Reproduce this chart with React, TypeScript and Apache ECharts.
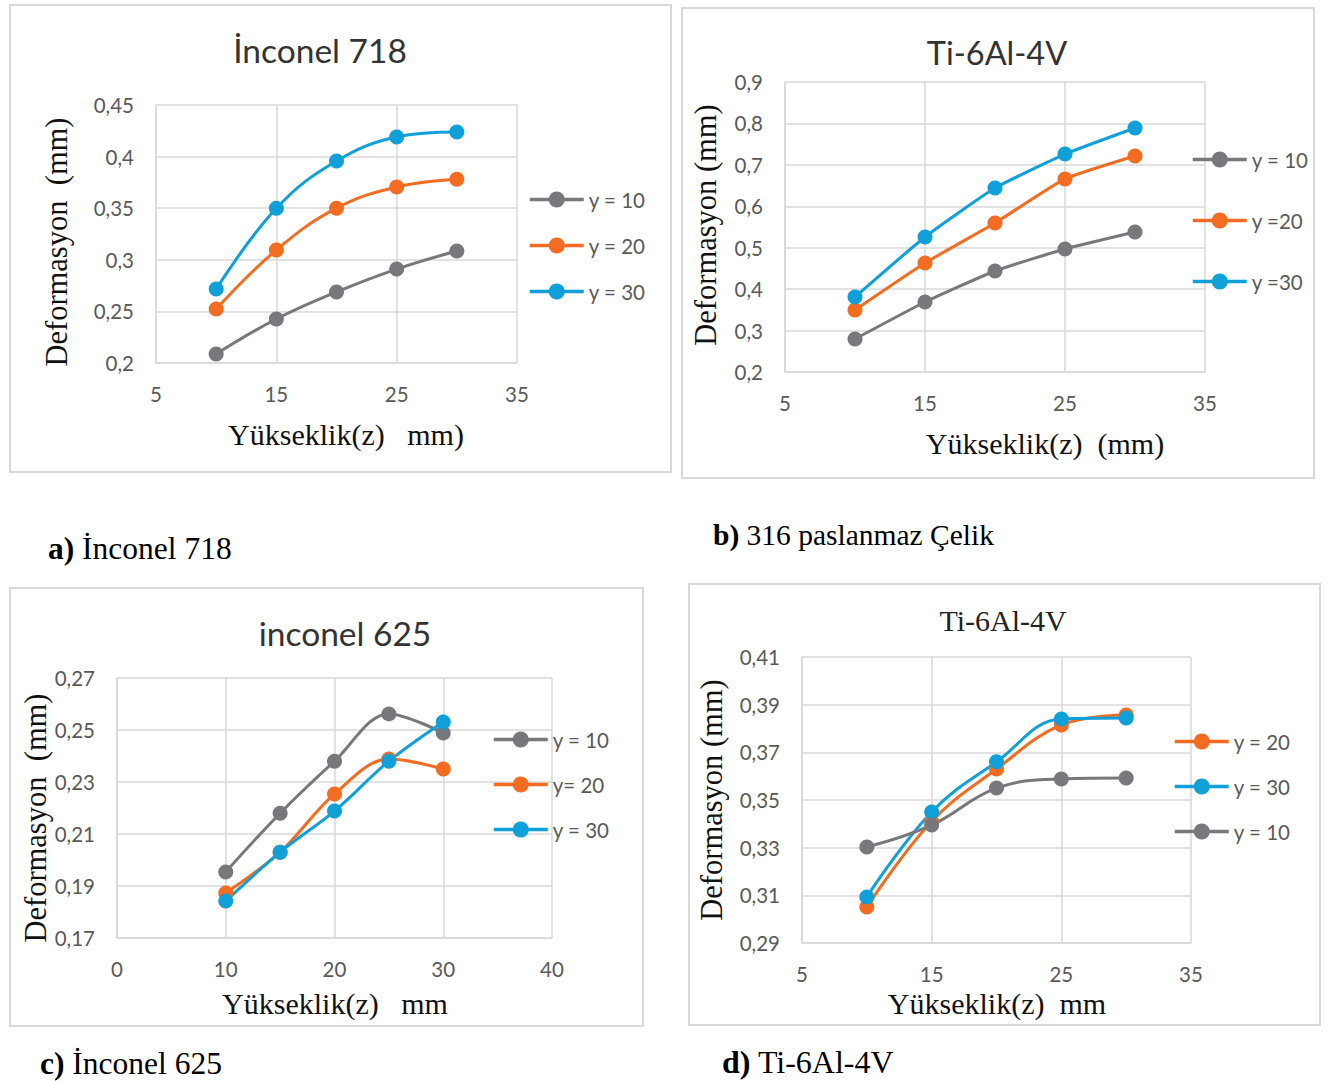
import React, { useEffect, useRef } from 'react';
import * as echarts from 'echarts';

const Z = [10, 15, 20, 25, 30];

const A_Y10 = [0.2087, 0.2426, 0.2688, 0.291, 0.3085];
const A_Y20 = [0.2523, 0.3095, 0.35, 0.3705, 0.378];
const A_Y30 = [0.2717, 0.35, 0.3957, 0.419, 0.4238];

const B_Y10 = [0.2797, 0.369, 0.4438, 0.497, 0.538];
const B_Y20 = [0.3497, 0.463, 0.5597, 0.666, 0.7214];
const B_Y30 = [0.381, 0.526, 0.644, 0.726, 0.789];

const C_Y10 = [0.1954, 0.218, 0.238, 0.2562, 0.2488];
const C_Y20 = [0.1873, 0.203, 0.2254, 0.2388, 0.235];
const C_Y30 = [0.1842, 0.203, 0.2188, 0.238, 0.2531];

const D_Y20 = [0.3051, 0.341, 0.363, 0.3815, 0.3857];
const D_Y30 = [0.3093, 0.345, 0.366, 0.384, 0.3844];
const D_Y10 = [0.3303, 0.3395, 0.355, 0.3588, 0.3592];

const GRAY = '#77787b';
const ORANGE = '#f36c21';
const BLUE = '#0fa0da';
const GRID_C = '#d9d9d9';
const LABEL_C = '#595959';
const SANS = 'Lato, "Open Sans", sans-serif';
const SERIF = '"Liberation Serif", "Times New Roman", serif';

const pairs = (ys: number[]) => Z.map((z, i) => [z, ys[i]]);
const comma = (v: number) => String(v).replace('.', ',');

export default function App() {
  const ref = useRef<HTMLDivElement>(null);
  useEffect(() => {
    if (!ref.current) return;
    const chart = echarts.init(ref.current, null, { renderer: 'svg' });

    const grids = [
      { left: 156, top: 105, width: 361, height: 258 },
      { left: 785, top: 82, width: 420, height: 290 },
      { left: 117, top: 678, width: 435, height: 260 },
      { left: 802, top: 657, width: 389, height: 286 },
    ];
    const xRanges = [
      [5, 35, 10],
      [5, 35, 10],
      [0, 40, 10],
      [5, 35, 10],
    ];
    const yRanges = [
      [0.2, 0.45, 0.05],
      [0.2, 0.9, 0.1],
      [0.17, 0.27, 0.02],
      [0.29, 0.41, 0.02],
    ];

    const xAxis = xRanges.map((r, i) => ({
      type: 'value',
      gridIndex: i,
      min: r[0],
      max: r[1],
      interval: r[2],
      axisLine: { show: true, lineStyle: { color: GRID_C, width: 1.5 } },
      axisTick: { show: false },
      splitLine: { show: true, lineStyle: { color: GRID_C, width: 1.5 } },
      axisLabel: { color: LABEL_C, fontSize: 20.5, fontFamily: SANS, margin: 20 },
    }));
    const yAxis = yRanges.map((r, i) => ({
      type: 'value',
      gridIndex: i,
      min: r[0],
      max: r[1],
      interval: r[2],
      axisLine: { show: true, lineStyle: { color: GRID_C, width: 1.5 } },
      axisTick: { show: false },
      splitLine: { show: true, lineStyle: { color: GRID_C, width: 1.5 } },
      axisLabel: {
        color: LABEL_C,
        fontSize: 20.5,
        fontFamily: SANS,
        margin: 22,
        formatter: (v: number) => comma(v),
      },
    }));

    const mk = (name: string, ys: number[], color: string, idx: number, smooth: number) => ({
      type: 'line',
      name,
      xAxisIndex: idx,
      yAxisIndex: idx,
      data: pairs(ys),
      smooth,
      symbol: 'circle',
      symbolSize: 15,
      lineStyle: { color, width: 3 },
      itemStyle: { color },
    });

    const series = [
      mk('y = 10', A_Y10, GRAY, 0, 0.4),
      mk('y = 20', A_Y20, ORANGE, 0, 0.4),
      mk('y = 30', A_Y30, BLUE, 0, 0.4),
      mk('y = 10', B_Y10, GRAY, 1, 0.15),
      mk('y =20', B_Y20, ORANGE, 1, 0.15),
      mk('y =30', B_Y30, BLUE, 1, 0.15),
      mk('y = 10', C_Y10, GRAY, 2, 0.35),
      mk('y= 20', C_Y20, ORANGE, 2, 0.35),
      mk('y = 30', C_Y30, BLUE, 2, 0.35),
      mk('y = 20', D_Y20, ORANGE, 3, 0.4),
      mk('y = 30', D_Y30, BLUE, 3, 0.4),
      mk('y = 10', D_Y10, GRAY, 3, 0.4),
    ];

    const legendBase = {
      orient: 'vertical',
      padding: 0,
      itemWidth: 54,
      itemHeight: 20,
      selectedMode: false,
      lineStyle: { width: 3.5 },
      textStyle: { color: LABEL_C, fontSize: 20.5, fontFamily: SANS, lineHeight: 20 },
    };
    const legend = [
      { ...legendBase, left: 528, top: 189, itemGap: 25, data: ['y = 10', 'y = 20', 'y = 30'] },
      { ...legendBase, left: 1191, top: 149, itemGap: 40, data: ['y = 10', 'y =20', 'y =30'] },
      { ...legendBase, left: 492, top: 729, itemGap: 24, data: ['y = 10', 'y= 20', 'y = 30'] },
      { ...legendBase, left: 1173, top: 731, itemGap: 24, data: ['y = 20', 'y = 30', 'y = 10'] },
    ];

    const box = (x: number, y: number, w: number, h: number) => ({
      type: 'rect',
      shape: { x, y, width: w, height: h },
      style: { fill: 'none', stroke: GRID_C, lineWidth: 2 },
      silent: true,
    });
    const txt = (
      text: string,
      x: number,
      y: number,
      font: string,
      size: number,
      color: string,
      rotate = false,
      align = 'center'
    ) => ({
      type: 'text',
      x,
      y,
      rotation: rotate ? Math.PI / 2 : 0,
      silent: true,
      style: {
        text,
        fontFamily: font,
        fontSize: size,
        fill: color,
        align,
        verticalAlign: 'middle',
      },
    });
    const caption = (label: string, rest: string, x: number, y: number, size: number) => ({
      type: 'text',
      x,
      y,
      silent: true,
      style: {
        text: `{b|${label}}{n|${rest}}`,
        align: 'left',
        verticalAlign: 'middle',
        rich: {
          b: { fontFamily: SERIF, fontSize: size, fontWeight: 'bold', fill: '#000' },
          n: { fontFamily: SERIF, fontSize: size, fill: '#000' },
        },
      },
    });
    const NB = '\u00a0';

    const graphic = [
      box(10, 5, 661, 467),
      box(682, 8, 632, 470),
      box(10, 588, 633, 438),
      box(689, 584, 631, 441),
      txt('İnconel 718', 320, 50, SANS, 33.5, '#333'),
      txt('Ti-6Al-4V', 997, 52, SANS, 32.5, '#333'),
      txt('inconel 625', 345, 633, SANS, 33.5, '#333'),
      txt('Ti-6Al-4V', 1003, 620, SERIF, 30, '#222'),
      txt(`Deformasyon${NB}${NB}(mm)`, 57, 242, SERIF, 30.5, '#111', true),
      txt('Deformasyon (mm)', 706, 225, SERIF, 30.5, '#111', true),
      txt(`Deformasyon${NB}${NB}(mm)`, 36, 818, SERIF, 30.5, '#111', true),
      txt('Deformasyon (mm)', 712, 800, SERIF, 30.5, '#111', true),
      txt(`Yükseklik(z)${NB}${NB}${NB}mm)`, 346, 434, SERIF, 30, '#111'),
      txt(`Yükseklik(z)${NB}${NB}(mm)`, 1045, 443, SERIF, 30, '#111'),
      txt(`Yükseklik(z)${NB}${NB}${NB}mm`, 335, 1003, SERIF, 30, '#111'),
      txt(`Yükseklik(z)${NB}${NB}mm`, 997, 1003, SERIF, 30, '#111'),
      caption('a)', ' İnconel 718', 48, 548, 31.5),
      caption('b)', ' 316 paslanmaz Çelik', 713, 535, 29.5),
      caption('c)', ' İnconel 625', 40, 1063, 31.5),
      caption('d)', ' Ti-6Al-4V', 722, 1062, 32),
    ];

    chart.setOption({
      animation: false,
      backgroundColor: '#fff',
      grid: grids,
      xAxis,
      yAxis,
      legend,
      series,
      graphic,
    } as any);
    return () => chart.dispose();
  }, []);
  return (
    <div
      ref={ref}
      style={{ position: 'absolute', left: 0, top: 0, width: 1333, height: 1081 }}
    />
  );
}
